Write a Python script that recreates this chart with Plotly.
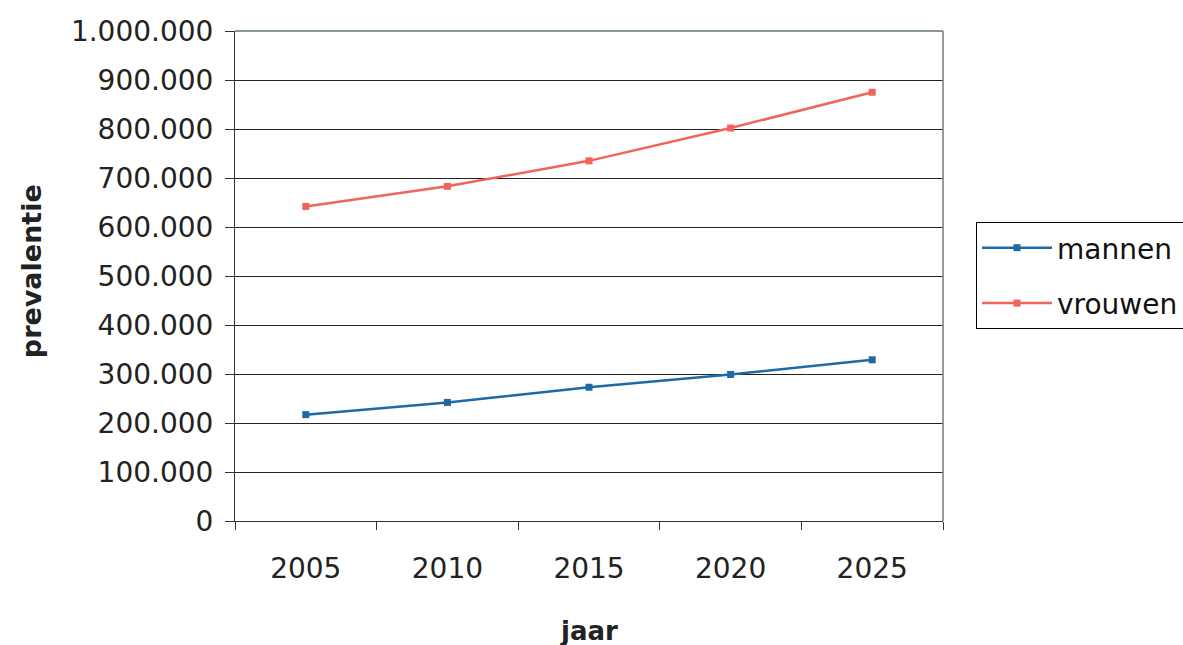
import plotly.graph_objects as go

jaren = ["2005", "2010", "2015", "2020", "2025"]
mannen = [217000, 242000, 273000, 299000, 329000]
vrouwen = [642000, 683000, 735000, 802000, 875000]
y_ticks = [0, 100000, 200000, 300000, 400000, 500000, 600000, 700000, 800000, 900000, 1000000]

FONT = "DejaVu Sans, Liberation Sans, Arial, sans-serif"

fig = go.Figure()
fig.add_trace(go.Scatter(
    x=jaren, y=mannen, name="mannen", mode="lines+markers",
    line=dict(color="#1f6aa5", width=2.5),
    marker=dict(symbol="square", size=7, color="#1f6aa5"),
    legendgroup="m",
))
fig.add_trace(go.Scatter(
    x=jaren, y=vrouwen, name="vrouwen", mode="lines+markers",
    line=dict(color="#f0645c", width=2.5),
    marker=dict(symbol="square", size=7, color="#f0645c"),
    legendgroup="v",
))

fig.update_layout(
    width=1183, height=645,
    margin=dict(l=235, r=240, t=31, b=124, autoexpand=False),
    paper_bgcolor="white", plot_bgcolor="white",
    separators=",.",
    font=dict(family=FONT, size=28, color="#222"),
    showlegend=True,
    legend=dict(
        xref="container", yref="container",
        x=976 / 1183, y=1 - 222 / 645, xanchor="left", yanchor="top",
        bordercolor="black", borderwidth=1,
        font=dict(family=FONT, size=28, color="#111"),
        itemwidth=70, traceorder="grouped", tracegroupgap=16,
        bgcolor="white",
    ),
    xaxis=dict(
        type="category", tickson="boundaries", range=[-0.5, 4.5],
        showline=True, linecolor="#333", linewidth=1,
        ticks="outside", ticklen=8, tickcolor="#333",
        showgrid=False, tickfont=dict(size=28), ticklabelstandoff=22,
    ),
    yaxis=dict(
        range=[0, 1000000], tickvals=y_ticks, tickformat=",d",
        showline=True, linecolor="#333", linewidth=1,
        ticks="outside", ticklen=9, tickcolor="#333",
        showgrid=True, gridcolor="#222", gridwidth=1,
        zeroline=False, tickfont=dict(size=28), ticklabelstandoff=6,
    ),
    shapes=[
        dict(type="line", xref="paper", yref="paper", x0=0, x1=1, y0=1, y1=1,
             line=dict(color="#8a9898", width=2), layer="above"),
        dict(type="line", xref="paper", yref="paper", x0=1, x1=1, y0=0, y1=1,
             line=dict(color="#777", width=1.5), layer="above"),
    ],
    annotations=[
        dict(text="<b>jaar</b>", xref="paper", yref="paper", x=0.5, y=-0.225,
             xanchor="center", yanchor="middle", showarrow=False,
             font=dict(family=FONT, size=26, color="#222")),
        dict(text="<b>prevalentie</b>", xref="paper", yref="paper", x=-0.288, y=0.51,
             xanchor="center", yanchor="middle", showarrow=False, textangle=-90,
             font=dict(family=FONT, size=27, color="#222")),
    ],
)

fig.write_html("out.html")
